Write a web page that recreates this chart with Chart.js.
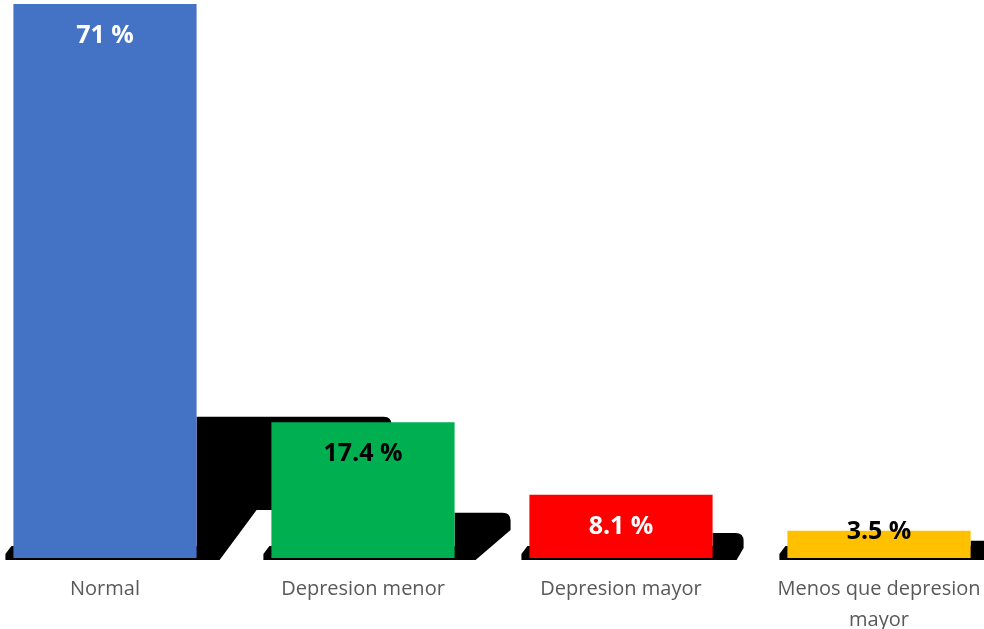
<!DOCTYPE html>
<html>
<head>
<meta charset="utf-8">
<script src="https://cdn.jsdelivr.net/npm/chart.js@4.4.1/dist/chart.umd.min.js"></script>
<style>
  html, body { margin: 0; padding: 0; background: #fff; overflow: hidden; width: 984px; height: 629px; }
  #wrap { position: absolute; left: -24px; top: 0; width: 1032px; height: 644px; }
</style>
</head>
<body>
<div id="wrap"><canvas id="myChart"></canvas></div>
<script>
"use strict";

// Categories and values
var categories = ["Normal", "Depresion menor", "Depresion mayor", ["Menos que depresion", "mayor"]];
var percentValues = [71, 17.4, 8.1, 3.5];
var valueLabels = ["71 %", "17.4 %", "8.1 %", "3.5 %"];
// height of the black shadow blob next to each bar (same % scale)
var shadowValues = [18.1, 5.8, 3.2, 2.2];

var barColors = ["#4472C4", "#00B050", "#FF0000", "#FFC000"];
var labelColors = ["#FFFFFF", "#000000", "#FFFFFF", "#000000"];

// reach, inner step, knee height above base, foot (px)
var shadowShape = [[195, 60, 48, 23], [56, 56, 28, 21], [31, 31, 10, 24], [25, 25, 10, 20]];

//Draws the odd black shadows behind the bars.
var shadowPlugin = {
    id: "shadows",
    beforeDatasetsDraw: function (chart) {
        var ctx = chart.ctx;
        var yScale = chart.scales.y;
        var bars = chart.getDatasetMeta(0).data;
        ctx.save();
        ctx.fillStyle = "#000";
        bars.forEach(function (bar, i) {
            var left = bar.x - bar.width / 2;
            var right = bar.x + bar.width / 2;
            var base = bar.base;
            var top = yScale.getPixelForValue(shadowValues[i]);
            var s = shadowShape[i];
            var r = Math.min(8, (base - top) / 3);
            ctx.beginPath();
            ctx.moveTo(right, top);
            ctx.lineTo(right + s[0] - r, top);
            ctx.quadraticCurveTo(right + s[0], top, right + s[0], top + r);
            ctx.lineTo(right + s[0], base - s[2]);
            ctx.lineTo(right + s[1], base - s[2]);
            ctx.lineTo(right + s[3], base + 2);
            ctx.lineTo(left - 8, base + 2);
            ctx.lineTo(left - 8, base - 4);
            ctx.lineTo(left - 2, base - 12);
            ctx.lineTo(right, base - 12);
            ctx.closePath();
            ctx.fill();
        });
        ctx.restore();
    }
};

//Writes the value labels on the bars.
var labelPlugin = {
    id: "valueLabels",
    afterDatasetsDraw: function (chart) {
        var ctx = chart.ctx;
        var bars = chart.getDatasetMeta(0).data;
        ctx.save();
        ctx.font = "bold 25px 'Open Sans'";
        ctx.textAlign = "center";
        ctx.textBaseline = "middle";
        bars.forEach(function (bar, i) {
            var h = bar.base - bar.y;
            var y = h > 50 ? bar.y + 32 : bar.y + 1;
            ctx.fillStyle = labelColors[i];
            ctx.fillText(valueLabels[i], bar.x, y);
        });
        ctx.restore();
    }
};

var ctx = document.getElementById('myChart').getContext('2d');
var myChart = new Chart(ctx, {
    type: 'bar',
    data: {
        labels: categories,
        datasets: [{
            data: percentValues,
            backgroundColor: barColors,
            borderWidth: 0,
            barPercentage: 0.71,
            categoryPercentage: 1
        }]
    },
    options: {
        responsive: true,
        maintainAspectRatio: false,
        animation: false,
        layout: { padding: { top: 4, left: 0, right: 0, bottom: 0 } },
        plugins: {
            legend: { display: false },
            tooltip: { enabled: false }
        },
        scales: {
            x: {
                grid: { display: false },
                border: { display: false },
                ticks: {
                    color: "#595959",
                    padding: 8,
                    maxRotation: 0,
                    autoSkip: false,
                    font: { family: "'Open Sans'", size: 20, lineHeight: 1.55 }
                }
            },
            y: {
                display: false,
                min: 0,
                max: 71
            }
        }
    },
    plugins: [shadowPlugin, labelPlugin]
});
</script>
</body>
</html>
